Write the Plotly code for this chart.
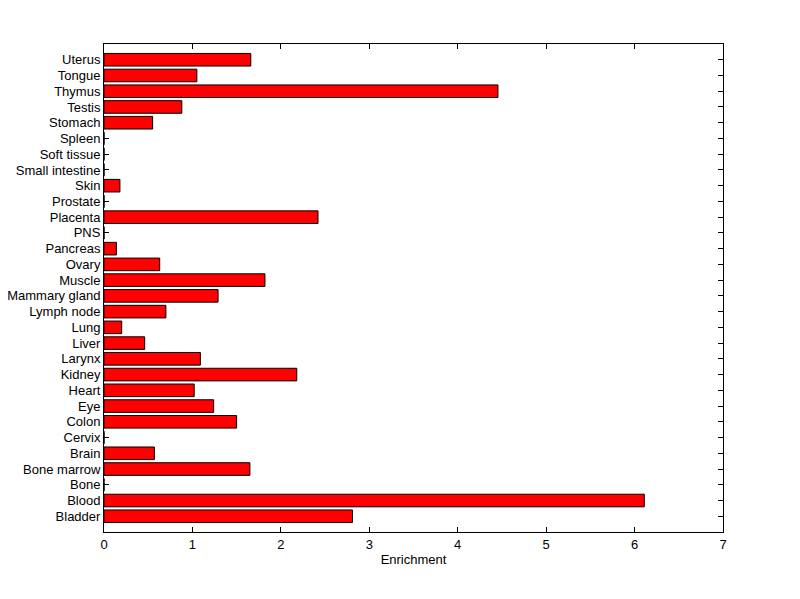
import plotly.graph_objects as go

tissues = ["Bladder", "Blood", "Bone", "Bone marrow", "Brain", "Cervix", "Colon", "Eye",
           "Heart", "Kidney", "Larynx", "Liver", "Lung", "Lymph node", "Mammary gland",
           "Muscle", "Ovary", "Pancreas", "PNS", "Placenta", "Prostate", "Skin",
           "Small intestine", "Soft tissue", "Spleen", "Stomach", "Testis", "Thymus",
           "Tongue", "Uterus"]
enrichment = [2.81, 6.11, 0, 1.65, 0.57, 0, 1.50, 1.24,
              1.02, 2.18, 1.09, 0.46, 0.20, 0.70, 1.29,
              1.82, 0.63, 0.14, 0, 2.42, 0, 0.18,
              0, 0, 0, 0.55, 0.88, 4.455,
              1.05, 1.66]
x_ticks = [0, 1, 2, 3, 4, 5, 6, 7]

fig = go.Figure(go.Bar(
    x=enrichment, y=tissues, orientation="h", width=0.8,
    marker=dict(color="#FF0000", line=dict(color="black", width=1)),
))

font = dict(family="Liberation Sans, Arial, sans-serif", size=13, color="black")
fig.update_layout(
    width=792, height=591, autosize=False,
    margin=dict(l=96, r=77, t=36, b=67),
    paper_bgcolor="white", plot_bgcolor="white",
    font=font, showlegend=False,
    xaxis=dict(range=[0, 7], tickmode="array", tickvals=x_ticks, ticks="inside", ticklen=5,
               tickcolor="black", showline=True, linecolor="black", linewidth=1,
               mirror="ticks", showgrid=False, zeroline=False, automargin=False,
               title=dict(text="Enrichment", font=font, standoff=4)),
    yaxis=dict(type="category", categoryorder="array", categoryarray=tissues,
               tickmode="array", tickvals=tissues, ticktext=tissues,
               range=[-1, 30], ticks="inside", ticklen=5, tickcolor="black",
               showline=True, linecolor="black", linewidth=1, mirror="ticks",
               showgrid=False, zeroline=False, layer="below traces", automargin=False),
)
fig.write_html("out.html")
